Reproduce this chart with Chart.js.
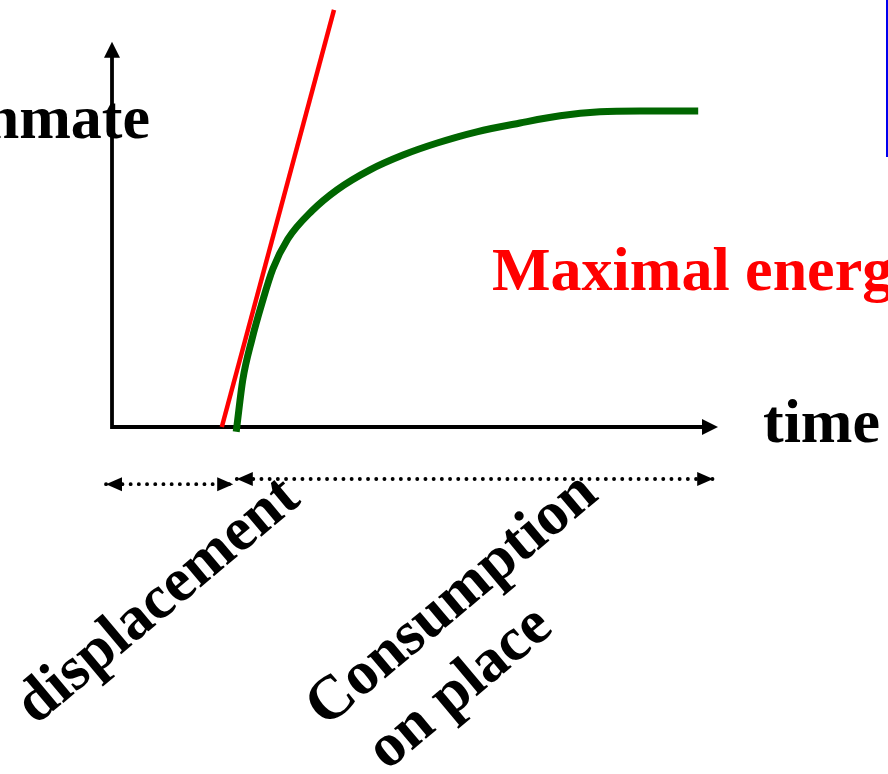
<!DOCTYPE html>
<html>
<head>
<meta charset="utf-8">
<script src="https://cdn.jsdelivr.net/npm/chart.js@4/dist/chart.umd.min.js"></script>
<style>
html,body{margin:0;padding:0;background:#fff;overflow:hidden;}
canvas{display:block;}
</style>
</head>
<body>
<canvas id="c" width="888" height="774"></canvas>
<script>
// ---- data (arbitrary units: time on x, quantity on y) ----
const tangentTime  = [1.83, 3.70];
const tangentValue = [0.00, 10.43];

const curveTime  = [2.07, 2.08, 2.18, 2.33, 2.50, 2.68, 2.93, 3.33, 3.75, 4.30, 4.85, 5.42, 6.08, 6.80, 7.47, 8.13, 8.80, 9.77];
const curveValue = [-0.12, 0.00, 1.18, 2.18, 3.10, 3.95, 4.70, 5.40, 5.93, 6.43, 6.80, 7.10, 7.38, 7.60, 7.78, 7.88, 7.90, 7.90];

const phaseNames = ['displacement', 'Consumption on place'];
const phaseStart = [-0.10, 2.08];
const phaseEnd   = [2.02, 10.02];
const phaseLevel = [-1.43, -1.30];

const axisTimeEnd  = 10.1;   // arrow tip of time axis
const axisValueEnd = 9.63;   // arrow tip of vertical axis

const xRange = [-1.8667, 12.9333];
const yRange = [-8.675, 10.675];

const toPts = (xs, ys) => xs.map((v, i) => ({x: v, y: ys[i]}));

function tri(ctx, tx, ty, dir, len, half) {
  ctx.beginPath();
  if (dir === 'r') { ctx.moveTo(tx, ty); ctx.lineTo(tx - len, ty - half); ctx.lineTo(tx - len, ty + half); }
  if (dir === 'l') { ctx.moveTo(tx, ty); ctx.lineTo(tx + len, ty - half); ctx.lineTo(tx + len, ty + half); }
  if (dir === 'u') { ctx.moveTo(tx, ty); ctx.lineTo(tx - half, ty + len); ctx.lineTo(tx + half, ty + len); }
  ctx.closePath();
  ctx.fill();
}

const decor = {
  id: 'decor',
  beforeDatasetsDraw(chart) {
    const {ctx, scales: {x, y}} = chart;
    const ox = x.getPixelForValue(0), oy = y.getPixelForValue(0);
    const xe = x.getPixelForValue(axisTimeEnd), ye = y.getPixelForValue(axisValueEnd);
    ctx.save();
    ctx.strokeStyle = '#000'; ctx.fillStyle = '#000';
    ctx.lineWidth = 3.8; ctx.lineCap = 'butt';
    ctx.beginPath();
    ctx.moveTo(ox, ye + 12); ctx.lineTo(ox, oy); ctx.lineTo(xe - 12, oy);
    ctx.stroke();
    tri(ctx, ox, ye, 'u', 16, 8);
    tri(ctx, xe, oy, 'r', 16, 8);
    // blue frame edge at right
    ctx.strokeStyle = '#0000ee'; ctx.lineWidth = 2;
    ctx.beginPath(); ctx.moveTo(887, 0); ctx.lineTo(887, 157); ctx.stroke();
    ctx.restore();
  },
  afterDatasetsDraw(chart) {
    const {ctx, scales: {x, y}} = chart;
    ctx.save();
    ctx.fillStyle = '#000';
    for (let i = 0; i < phaseStart.length; i++) {
      const py = y.getPixelForValue(phaseLevel[i]);
      tri(ctx, x.getPixelForValue(phaseStart[i]), py, 'l', 16, 7);
      tri(ctx, x.getPixelForValue(phaseEnd[i]), py, 'r', 16, 7);
    }
    ctx.font = 'bold 62px "Liberation Serif", "Times New Roman", serif';
    ctx.textBaseline = 'alphabetic';
    ctx.textAlign = 'right';
    ctx.fillText('nmate', 150, 138);
    ctx.textAlign = 'left';
    ctx.fillText('time', 763, 442);
    ctx.fillStyle = '#ff0000';
    ctx.fillText('Maximal energ', 492, 290);
    ctx.fillStyle = '#000';
    const ang = -40 * Math.PI / 180;
    const rot = (txt, cx, cy) => {
      ctx.save(); ctx.translate(cx, cy); ctx.rotate(ang);
      ctx.textAlign = 'center'; ctx.fillText(txt, 0, 0); ctx.restore();
    };
    rot(phaseNames[0], 169, 614);
    const words = phaseNames[1].split(' ');
    rot(words[0], 463, 613);
    rot(words.slice(1).join(' '), 471, 701);
    ctx.restore();
  }
};

const datasets = [
  {
    data: toPts(tangentTime, tangentValue),
    borderColor: '#ff0000', borderWidth: 4.5, pointRadius: 0, showLine: true,
    borderCapStyle: 'butt', order: 0
  },
  {
    data: toPts(curveTime, curveValue),
    borderColor: '#006600', borderWidth: 7, pointRadius: 0, showLine: true,
    cubicInterpolationMode: 'monotone', borderCapStyle: 'butt', order: 1
  }
];
phaseStart.forEach((s, i) => {
  datasets.push({
    data: [{x: s, y: phaseLevel[i]}, {x: phaseEnd[i], y: phaseLevel[i]}],
    borderColor: '#000', borderWidth: 3.8, pointRadius: 0, showLine: true,
    borderDash: [0.1, 8.1], borderCapStyle: 'round', order: 2
  });
});

new Chart(document.getElementById('c'), {
  type: 'scatter',
  data: { datasets },
  options: {
    responsive: false,
    animation: false,
    devicePixelRatio: 1,
    layout: { padding: 0 },
    plugins: { legend: { display: false }, tooltip: { enabled: false } },
    scales: {
      x: { type: 'linear', min: xRange[0], max: xRange[1], display: false },
      y: { type: 'linear', min: yRange[0], max: yRange[1], display: false }
    }
  },
  plugins: [decor]
});
</script>
</body>
</html>
